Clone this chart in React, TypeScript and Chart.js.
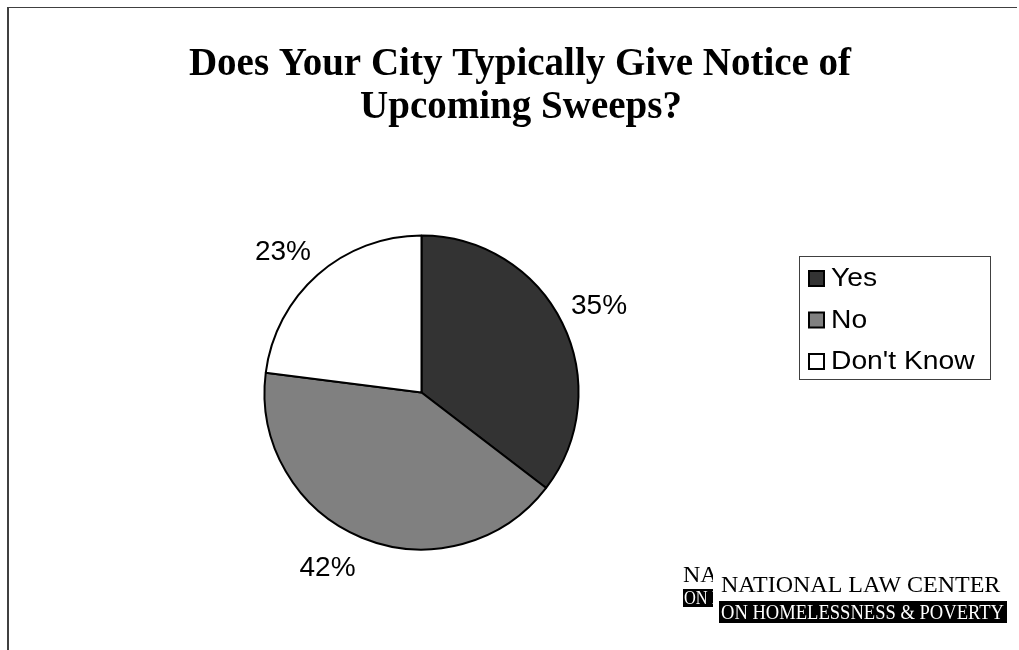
import React, { useEffect, useRef } from "react";
import { Chart, registerables } from "chart.js";

Chart.register(...registerables);

const titleLines = ["Does Your City Typically Give Notice of", "Upcoming Sweeps?"];
const categories = ["Yes", "No", "Don't Know"];
const shares = [35.4, 41.6, 23.0];
const sliceColors = ["#333333", "#808080", "#ffffff"];
const labelAngleNudge = [0, 6, -3];
const logoTop = "NATIONAL LAW CENTER";
const logoBottom = "ON HOMELESSNESS & POVERTY";

const W = 1019;
const H = 650;

function drawLogo(ctx: CanvasRenderingContext2D, x: number) {
  ctx.fillStyle = "#000";
  ctx.font = "24px 'Liberation Serif', serif";
  ctx.fillText(logoTop, x + 2, 592, 282);
  ctx.fillRect(x, 601, 288, 22);
  ctx.fillStyle = "#fff";
  ctx.font = "22px 'Liberation Serif', serif";
  ctx.fillText(logoBottom, x + 2, 619, 283);
}

const decorPlugin = {
  id: "decor",
  beforeDraw(chart: any) {
    const ctx = chart.ctx as CanvasRenderingContext2D;
    ctx.save();
    ctx.fillStyle = "#ffffff";
    ctx.fillRect(0, 0, W, H);
    ctx.strokeStyle = "#404040";
    ctx.lineWidth = 1;
    ctx.beginPath();
    ctx.moveTo(7, 7.5);
    ctx.lineTo(1017, 7.5);
    ctx.stroke();
    ctx.lineWidth = 2;
    ctx.beginPath();
    ctx.moveTo(8, 7);
    ctx.lineTo(8, H);
    ctx.stroke();
    ctx.restore();
  },
  afterDraw(chart: any) {
    const ctx = chart.ctx as CanvasRenderingContext2D;
    ctx.save();
    // title
    ctx.fillStyle = "#000";
    ctx.font = "bold 39px 'Liberation Serif', 'Times New Roman', serif";
    ctx.textAlign = "center";
    ctx.textBaseline = "alphabetic";
    ctx.fillText(titleLines[0], 520, 75);
    ctx.fillText(titleLines[1], 521, 118);

    // percent labels
    const meta = chart.getDatasetMeta(0);
    const total = shares.reduce((a, b) => a + b, 0);
    ctx.font = "28px 'Liberation Sans', Arial, sans-serif";
    ctx.textAlign = "center";
    ctx.textBaseline = "middle";
    meta.data.forEach((arc: any, i: number) => {
      const mid = (arc.startAngle + arc.endAngle) / 2 + (labelAngleNudge[i] * Math.PI) / 180;
      const d = arc.outerRadius + 41;
      const x = arc.x + Math.cos(mid) * d;
      const y = arc.y + Math.sin(mid) * d;
      ctx.fillText(Math.round((shares[i] / total) * 100) + "%", x, y + 1);
    });

    // legend
    const lx = 799, ly = 256, lw = 191, lh = 123;
    ctx.strokeStyle = "#404040";
    ctx.lineWidth = 1;
    ctx.strokeRect(lx + 0.5, ly + 0.5, lw, lh);
    ctx.font = "25px 'Liberation Sans', Arial, sans-serif";
    ctx.textAlign = "left";
    ctx.textBaseline = "middle";
    categories.forEach((c, i) => {
      const cy = 278.5 + i * 41.5;
      ctx.fillStyle = sliceColors[i];
      ctx.fillRect(809, cy - 7.5, 15, 15);
      ctx.strokeStyle = "#000";
      ctx.lineWidth = 2;
      ctx.strokeRect(809, cy - 7.5, 15, 15);
      ctx.fillStyle = "#000";
      ctx.save();
      ctx.translate(831, cy + 1);
      ctx.scale(1.13, 1);
      ctx.fillText(c, 0, 0);
      ctx.restore();
    });

    // logo (ghost copy partly hidden behind main)
    ctx.textAlign = "left";
    ctx.textBaseline = "alphabetic";
    ctx.save();
    ctx.beginPath();
    ctx.rect(680, 560, 33, 60);
    ctx.clip();
    ctx.fillStyle = "#000";
    ctx.font = "24px 'Liberation Serif', serif";
    ctx.fillText(logoTop, 683, 582, 282);
    ctx.fillRect(683, 589, 40, 18);
    ctx.fillStyle = "#fff";
    ctx.font = "19px 'Liberation Serif', serif";
    ctx.fillText(logoBottom, 684, 604, 250);
    ctx.restore();
    ctx.fillStyle = "#fff";
    ctx.fillRect(713, 560, 300, 70);
    drawLogo(ctx, 719);
    ctx.restore();
  },
};

export default function App() {
  const ref = useRef<HTMLCanvasElement | null>(null);
  useEffect(() => {
    document.body.style.margin = "0";
    const canvas = ref.current!;
    const chart = new Chart(canvas, {
      type: "pie",
      data: {
        labels: categories,
        datasets: [
          {
            data: shares,
            backgroundColor: sliceColors,
            borderColor: "#000000",
            borderWidth: 2,
          },
        ],
      },
      options: {
        responsive: false,
        animation: false,
        devicePixelRatio: 1,
        rotation: 0,
        layout: { padding: { left: 263.5, right: 439.5, top: 234.5, bottom: 99.5 } },
        plugins: {
          legend: { display: false },
          title: { display: false },
          tooltip: { enabled: false },
        },
      },
      plugins: [decorPlugin],
    });
    return () => chart.destroy();
  }, []);
  return <canvas ref={ref} width={W} height={H} style={{ display: "block", width: W, height: H }} />;
}
